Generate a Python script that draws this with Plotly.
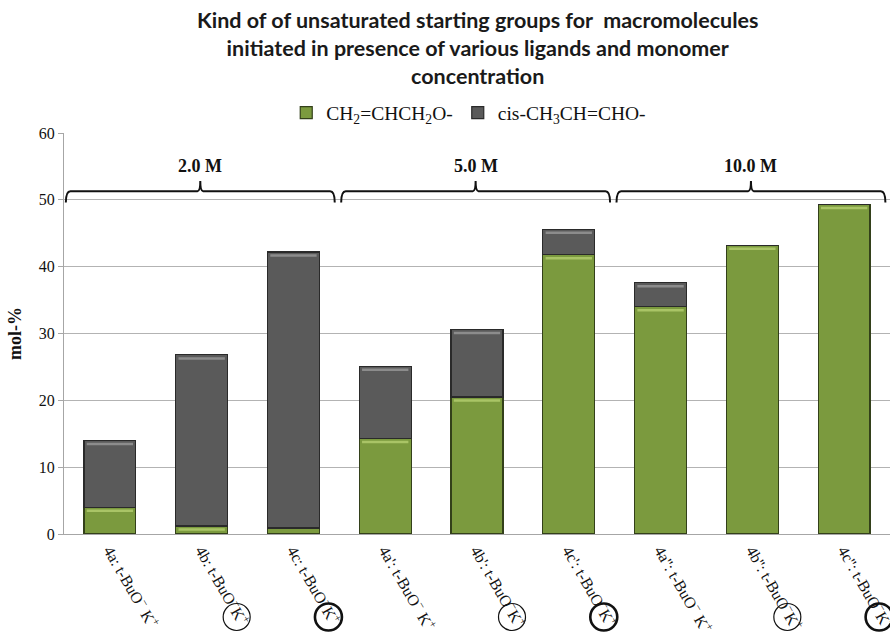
import plotly.graph_objects as go

# Samples (initiator / monomer concentration)
codes = ["4a", "4b", "4c", "4a'", "4b'", "4c'", "4a''", "4b''", "4c''"]
circled = [0, 1, 2, 0, 1, 2, 0, 1, 2]   # 0: free K+, 1: ligand (thin ring), 2: ligand (thick ring)
concentrations = ["2.0 M", "5.0 M", "10.0 M"]
group_size = 3

# mol-% of unsaturated starting groups
allyl = [4.0, 1.2, 0.9, 14.3, 20.5, 41.8, 34.0, 43.2, 49.3]       # CH2=CHCH2O-
propenyl = [10.0, 25.6, 41.3, 10.8, 10.1, 3.8, 3.6, 0.0, 0.0]     # cis-CH3CH=CHO-

y_ticks = [0, 10, 20, 30, 40, 50, 60]

GREEN = "#7b9a3e"
GREEN_HI = "#a9c466"
GREY = "#5a5a5a"
GREY_HI = "#8c8c8c"
SERIF = "Liberation Serif, Times New Roman, serif"
BARGAP = 0.435

x = list(range(len(codes)))
tick_text = []
for c, ring in zip(codes, circled):
    sep = " " if ring == 0 else ""
    tick_text.append(f"{c}: t-BuO<sup>\u2212</sup>{sep}K<sup>+</sup>")

fig = go.Figure()
fig.add_trace(go.Bar(
    x=x, y=allyl, name="CH<sub>2</sub>=CHCH<sub>2</sub>O-",
    marker=dict(color=GREEN, line=dict(color="#33401a", width=1.2)),
))
fig.add_trace(go.Bar(
    x=x, y=propenyl, name="cis-CH<sub>3</sub>CH=CHO-",
    marker=dict(color=GREY, line=dict(color="#2a2a2a", width=1.2)),
))

shapes = []
annotations = []

# Bevel highlight just under the top edge of each bar segment
half = (1 - BARGAP) / 2
for i in x:
    segments = [(allyl[i], allyl[i], GREEN_HI), (allyl[i] + propenyl[i], propenyl[i], GREY_HI)]
    for top, height, colour in segments:
        if height < 1.0:
            continue
        shapes.append(dict(type="line", xref="x", yref="y", ysizemode="pixel", yanchor=top,
                           x0=i - half + 0.03, x1=i + half - 0.03, y0=-3.5, y1=-3.5,
                           line=dict(color=colour, width=2.5)))

# Concentration brackets over each group of three samples
y_line, y_drop, y_tip = 51.3, 49.6, 52.8
for g, label in enumerate(concentrations):
    x0 = g * group_size - 0.48
    x1 = (g + 1) * group_size - 1 + 0.45
    xc = (x0 + x1) / 2
    path = (f"M {x0},{y_drop} Q {x0},{y_line} {x0 + 0.05},{y_line} "
            f"L {xc - 0.03},{y_line} Q {xc},{y_line} {xc},{y_tip} "
            f"Q {xc},{y_line} {xc + 0.03},{y_line} "
            f"L {x1 - 0.05},{y_line} Q {x1},{y_line} {x1},{y_drop}")
    shapes.append(dict(type="path", xref="x", yref="y", path=path,
                       line=dict(color="#111111", width=2)))
    annotations.append(dict(x=xc, y=55.0, xref="x", yref="y", text=f"<b>{label}</b>",
                            showarrow=False, font=dict(family=SERIF, size=18, color="#111111")))

# Rings drawn round the K+ of the ligand-complexed initiators in the tick labels
for i, ring in enumerate(circled):
    if ring == 0:
        continue
    cx, cy, r = 35, -83, 13.5
    shapes.append(dict(type="circle", xref="x", yref="paper",
                       xsizemode="pixel", ysizemode="pixel",
                       xanchor=x[i], yanchor=0,
                       x0=cx - r, x1=cx + r, y0=cy - r, y1=cy + r,
                       line=dict(color="#111111", width=1.2 if ring == 1 else 2.6)))

# Chart title
annotations.append(dict(
    text=("<b>Kind of of unsaturated starting groups for  macromolecules<br>"
          "initiated in presence of various ligands and monomer<br>concentration</b>"),
    x=0.5, xref="paper", xanchor="center", y=1.318, yref="paper", yanchor="top",
    showarrow=False, align="center",
    font=dict(family="Lato, Calibri, sans-serif", size=21.5, color="#1a1a1a"),
))

fig.update_layout(
    width=890, height=633,
    margin=dict(l=64, r=0, t=133, b=99),
    paper_bgcolor="white", plot_bgcolor="white",
    barmode="stack", bargap=BARGAP,
    legend=dict(orientation="h", x=0.49, xanchor="center", y=1.05, yanchor="middle",
                font=dict(family=SERIF, size=19.5, color="#111111"),
                traceorder="normal", itemwidth=30),
    shapes=shapes, annotations=annotations,
    showlegend=True,
)
fig.update_xaxes(
    range=[-0.5, len(codes) - 0.5], tickmode="array", tickvals=x, ticktext=tick_text,
    tickangle=60, tickfont=dict(family=SERIF, size=16, color="#111111"),
    ticklabeloverflow="allow", automargin=False,
    showline=True, linecolor="#a6a6a6", linewidth=1, showgrid=False, zeroline=False,
    ticks="",
)
fig.update_yaxes(
    range=[0, 60], tickvals=y_ticks, showgrid=True, gridcolor="#b3b3b3", gridwidth=1,
    showline=True, linecolor="#a6a6a6", linewidth=1, zeroline=False,
    ticks="outside", ticklen=5, tickcolor="#a6a6a6", automargin=False,
    tickfont=dict(family=SERIF, size=16, color="#111111"),
    title=dict(text="<b>mol-%</b>", font=dict(family=SERIF, size=18, color="#111111"), standoff=12),
)

fig.write_html("out.html")
